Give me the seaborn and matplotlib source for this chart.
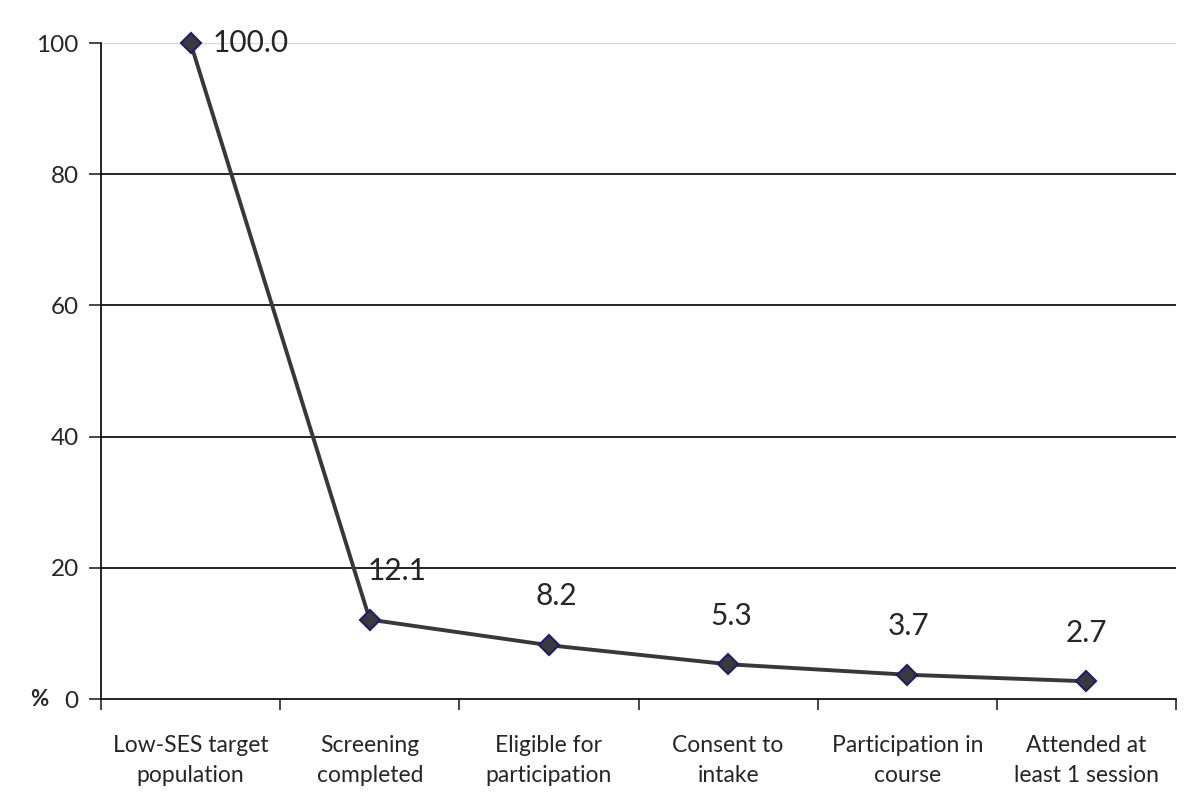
import matplotlib.pyplot as plt
import seaborn as sns
import pandas as pd

stages = ["Low-SES target\npopulation", "Screening\ncompleted", "Eligible for\nparticipation",
          "Consent to\nintake", "Participation in\ncourse", "Attended at\nleast 1 session"]
percent = [100.0, 12.1, 8.2, 5.3, 3.7, 2.7]
yticks = [0, 20, 40, 60, 80, 100]

df = pd.DataFrame({"pos": range(len(stages)), "pct": percent})

sns.set_style("white")
plt.rcParams["font.family"] = ["Lato", "DejaVu Sans"]

fig = plt.figure(figsize=(12, 8.11), dpi=100)
ax = fig.add_axes([101 / 1200, 112 / 811, 1075 / 1200, 656 / 811])

sns.lineplot(data=df, x="pos", y="pct", ax=ax, color="#383838", linewidth=2.8,
             marker="D", markersize=10, markerfacecolor="#3a3a3a",
             markeredgecolor="#1c1c70", markeredgewidth=1.5, clip_on=False, zorder=5)

# data labels (first one sits to the right of its point, the rest above)
label_dx = [16, 20, 5, 2, 1, 0]
for i, v in enumerate(percent):
    if i == 0:
        ax.annotate(f"{v:.1f}", (i, v), xytext=(label_dx[i], 0), textcoords="offset points",
                    ha="left", va="center", fontsize=21.5)
    else:
        ax.annotate(f"{v:.1f}", (i, v), xytext=(label_dx[i], 25), textcoords="offset points",
                    ha="center", va="bottom", fontsize=21.5)

ax.set_xlim(-0.5, len(stages) - 0.5)
ax.set_ylim(0, 100)
ax.set_yticks(yticks)
ax.tick_params(axis="y", labelsize=17.5, length=9, width=1.2, direction="out", left=True, pad=7)

# category labels between boundary ticks
ax.set_xticks([i - 0.5 for i in range(len(stages) + 1)])
ax.set_xticklabels([])
ax.set_xticks(range(len(stages)), minor=True)
ax.set_xticklabels(stages, minor=True, fontsize=16.5, linespacing=1.5)
ax.tick_params(axis="x", which="major", length=8, width=1.2, direction="out", bottom=True)
ax.tick_params(axis="x", which="minor", length=0, pad=26)

for y in yticks[1:-1]:
    ax.axhline(y, color="black", linewidth=1.2, zorder=0)
ax.axhline(100, color="#d8d8d8", linewidth=1, zorder=0)

for s in ["top", "right"]:
    ax.spines[s].set_visible(False)
for s in ["left", "bottom"]:
    ax.spines[s].set_color("black")
    ax.spines[s].set_linewidth(1.2)

ax.set_xlabel("")
ax.set_ylabel("")
ax.text(-0.057, 0, "%", transform=ax.transAxes, ha="center", va="center",
        fontsize=16, fontweight="bold")

fig.savefig("out.png", dpi=100)
plt.close()
